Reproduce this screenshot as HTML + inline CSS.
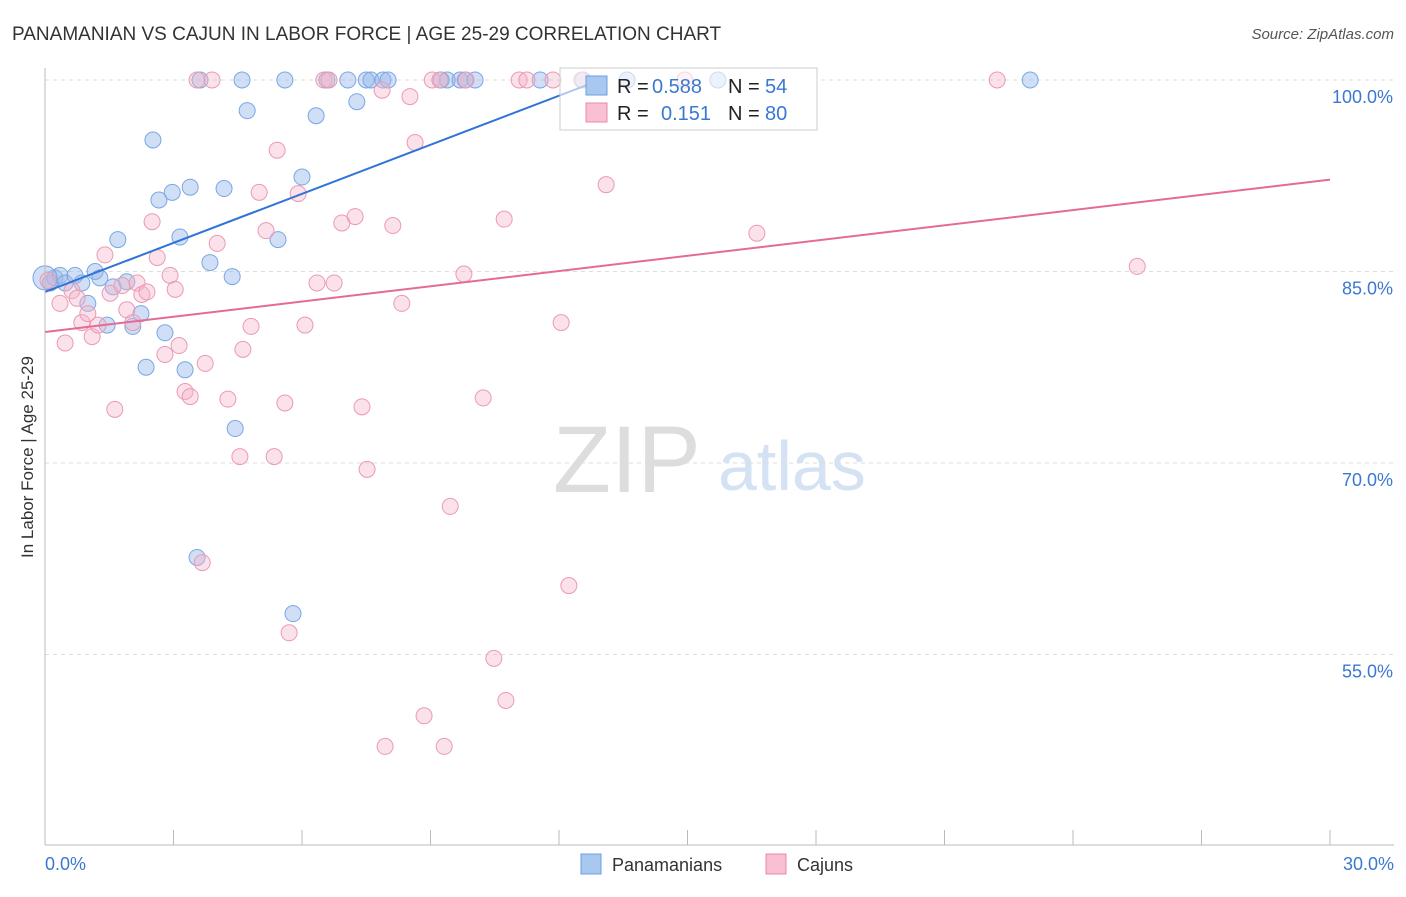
<!DOCTYPE html>
<html><head><meta charset="utf-8"><style>
body{margin:0;background:#fff;font-family:"Liberation Sans",sans-serif;}
svg text{font-family:"Liberation Sans",sans-serif;}
</style></head><body>
<svg id="c" width="1406" height="892" xmlns="http://www.w3.org/2000/svg">
<text x="12" y="40" font-size="19" fill="#333">PANAMANIAN VS CAJUN IN LABOR FORCE | AGE 25-29 CORRELATION CHART</text>
<text x="1394" y="39" font-size="15" fill="#555" font-style="italic" text-anchor="end">Source: ZipAtlas.com</text>
<text x="33" y="457" font-size="17" fill="#333" text-anchor="middle" transform="rotate(-90 33 457)">In Labor Force | Age 25-29</text>
<text x="553" y="492" font-size="95" fill="#ddd" font-family="Liberation Serif">ZIP</text>
<text x="718" y="490" font-size="70" fill="#d5e2f3">atlas</text>
<g id="grid"></g><g id="ticks"></g>
<g>
<rect x="560" y="68" width="257" height="62" fill="#fff" stroke="#ccc"/>
</g>
<g id="pts"></g><g id="trend"></g>
<g>
<rect x="560" y="68" width="257" height="62" fill="rgba(255,255,255,0.6)" stroke="#ccc"/>
<rect x="586" y="76" width="21" height="19" fill="#a8c8f0" stroke="#6a9fe0"/>
<rect x="586" y="103" width="21" height="19" fill="#f8c0d2" stroke="#e88aa8"/>
<text x="617" y="93" font-size="20" fill="#222">R =</text>
<text x="652" y="93" font-size="20" fill="#3b78d0">0.588</text>
<text x="728" y="93" font-size="20" fill="#222">N =</text>
<text x="765" y="93" font-size="20" fill="#3b78d0">54</text>
<text x="617" y="120" font-size="20" fill="#222">R =</text>
<text x="661" y="120" font-size="20" fill="#3b78d0">0.151</text>
<text x="728" y="120" font-size="20" fill="#222">N =</text>
<text x="765" y="120" font-size="20" fill="#3b78d0">80</text>
</g>
<line x1="45" y1="68" x2="45" y2="845" stroke="#bbb"/>
<line x1="45" y1="845" x2="1394" y2="845" stroke="#bbb"/>
<text x="45" y="870" font-size="18" fill="#3b78d0">0.0%</text>
<text x="1394" y="870" font-size="18" fill="#3b78d0" text-anchor="end">30.0%</text>
<g>
<rect x="581" y="854" width="20" height="20" fill="#a8c8f0" stroke="#6a9fe0"/>
<text x="612" y="871" font-size="18" fill="#333">Panamanians</text>
<rect x="766" y="854" width="20" height="20" fill="#f8c0d2" stroke="#e88aa8"/>
<text x="797" y="871" font-size="18" fill="#333">Cajuns</text>
</g>
</svg>
<script>
const yTicks=[100,85,70,55];
const yTickLabels=["100.0%","85.0%","70.0%","55.0%"];
const xTicks=[0,3,6,9,12,15,18,21,24,27,30];
const blueX=[0.12,0.23,0.35,0.47,0.70,0.86,1.0,1.17,1.28,1.45,1.59,1.70,1.91,2.05,2.24,2.36,2.52,2.66,2.80,2.97,3.15,3.27,3.39,3.62,3.85,4.18,4.37,4.44,4.60,4.72,5.44,5.60,5.79,6.0,6.33,6.58,7.07,7.28,7.50,7.61,7.89,8.01,9.25,9.39,9.69,9.81,10.04,11.56,12.56,13.59,15.71,23.0,3.55,0];
const blueY=[84.1,84.5,84.7,84.1,84.7,84.1,82.5,85.0,84.5,80.8,83.8,87.5,84.2,80.7,81.7,77.5,95.3,90.6,80.2,91.2,87.7,77.3,91.6,100,85.7,91.5,84.6,72.7,100,97.6,87.5,100,58.2,92.4,97.2,100,100,98.3,100,100,100,100,100,100,100,100,100,100,100,100,100,100,62.6,84.5];
const pinkX=[0.07,0.35,0.47,0.63,0.75,0.86,1.0,1.10,1.24,1.40,1.52,1.63,1.80,1.91,2.05,2.15,2.26,2.38,2.50,2.62,2.80,2.92,3.04,3.13,3.27,3.39,3.55,3.67,3.74,3.90,4.02,4.27,4.55,4.62,4.81,5.0,5.16,5.35,5.42,5.60,5.70,5.91,6.07,6.35,6.51,6.63,6.75,6.93,7.24,7.40,7.52,7.87,7.94,8.12,8.33,8.52,8.64,8.85,9.04,9.22,9.46,9.78,9.83,10.23,10.48,10.72,10.76,11.07,11.25,11.86,12.05,12.23,13.1,14.94,16.62,22.23,25.5,9.32,12.53];
const pinkY=[84.3,82.5,79.4,83.5,82.9,81.0,81.7,79.9,80.8,86.3,83.3,74.2,83.9,82.0,81.0,84.1,83.2,83.4,88.9,86.1,78.5,84.7,83.6,79.2,75.6,75.2,100,62.2,77.8,100,87.2,75.0,70.5,78.9,80.7,91.2,88.2,70.5,94.5,74.7,56.7,91.1,80.8,84.1,100,100,84.1,88.8,89.3,74.4,69.5,99.2,47.8,88.6,82.5,98.7,95.1,50.2,100,100,66.6,84.8,100,75.1,54.7,89.1,51.4,100,100,100,81.0,60.4,91.8,100,88.0,100,85.4,47.8,100];
const blueTrend=[[0,83.4],[12.96,100]];
const pinkTrend=[[0,80.26],[30,92.2]];
const NS="http://www.w3.org/2000/svg";
const sx=v=>45+v/30*1285;
const sy=v=>80+(100-v)/15*191.5;
function mk(t,a,p){const e=document.createElementNS(NS,t);for(const k in a)e.setAttribute(k,a[k]);document.getElementById(p).appendChild(e);return e;}
yTicks.forEach((t,i)=>{
 const l=mk('line',{x1:45,x2:1394,y1:sy(t),y2:sy(t),stroke:'#ddd','stroke-dasharray':'4,4'},'grid');
 
 
 const tx=mk('text',{x:1393,y:sy(t)+23,'font-size':18,fill:'#3b78d0','text-anchor':'end'},'grid');
 tx.textContent=yTickLabels[i];
 
 
});
xTicks.forEach(t=>{
 const l=mk('line',{x1:sx(t),x2:sx(t),y1:830,y2:845,stroke:'#bbb'},'ticks');
 
 
});
blueX.forEach((x,i)=>{
 const c=mk('circle',{cx:sx(x),cy:sy(blueY[i]),r:(i==blueX.length-1)?12:8,fill:'rgba(150,185,235,0.45)',stroke:'#7aa7e4','stroke-width':1},'pts');
 
 
});
pinkX.forEach((x,i)=>{
 const c=mk('circle',{cx:sx(x),cy:sy(pinkY[i]),r:8,fill:'rgba(245,180,200,0.4)',stroke:'#eb9ab4','stroke-width':1},'pts');
 
 
});
const bl=mk('line',{x1:sx(blueTrend[0][0]),y1:sy(blueTrend[0][1]),x2:sx(blueTrend[1][0]),y2:sy(blueTrend[1][1]),stroke:'#2f74d6','stroke-width':2},'trend');


const pl=mk('line',{x1:sx(pinkTrend[0][0]),y1:sy(pinkTrend[0][1]),x2:sx(pinkTrend[1][0]),y2:sy(pinkTrend[1][1]),stroke:'#e46b95','stroke-width':2},'trend');


</script>
</body></html>
